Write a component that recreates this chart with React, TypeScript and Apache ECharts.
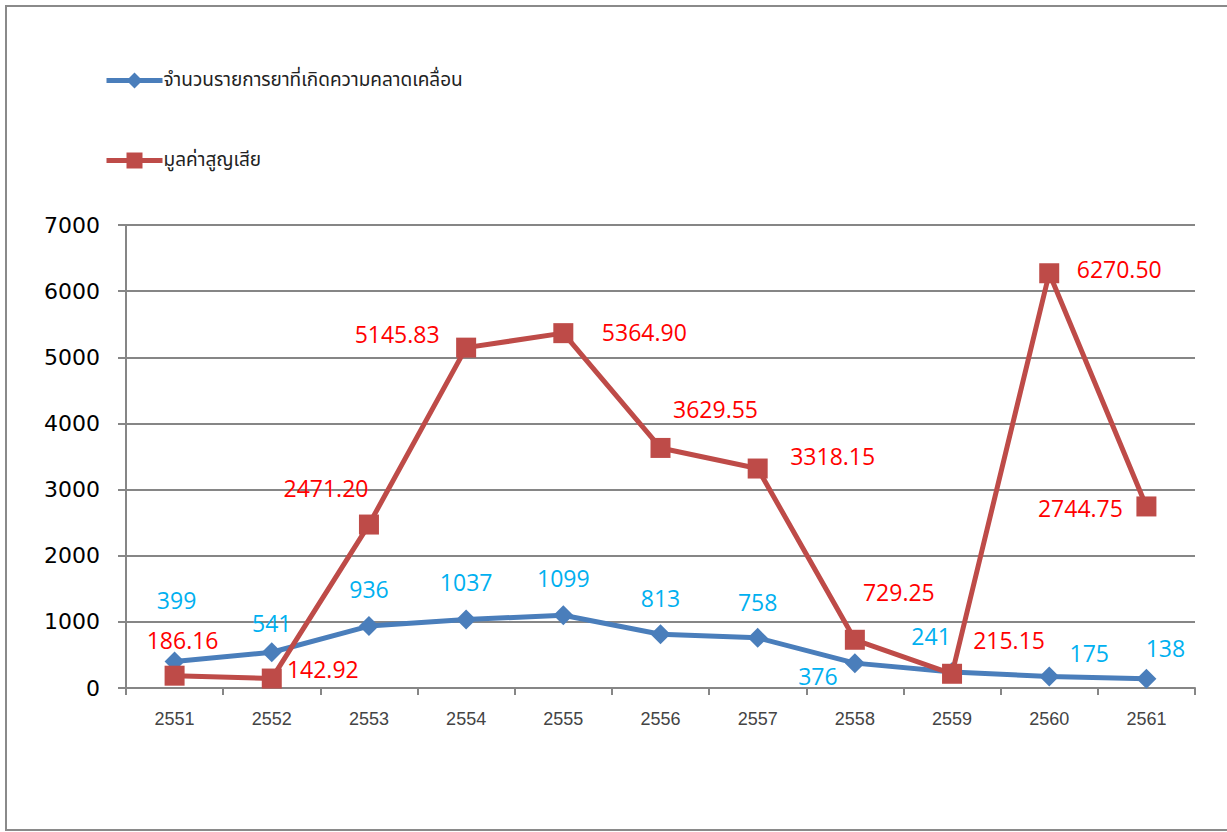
import React, { useEffect, useRef } from "react";
import * as echarts from "echarts";

const years = ["2551", "2552", "2553", "2554", "2555", "2556", "2557", "2558", "2559", "2560", "2561"];
const itemCounts = [399, 541, 936, 1037, 1099, 813, 758, 376, 241, 175, 138];
const lossValues = [186.16, 142.92, 2471.2, 5145.83, 5364.9, 3629.55, 3318.15, 729.25, 215.15, 6270.5, 2744.75];
const yTicks = [0, 1000, 2000, 3000, 4000, 5000, 6000, 7000];
const seriesNames = ["จำนวนรายการยาที่เกิดความคลาดเคลื่อน", "มูลค่าสูญเสีย"];

// label placement (layout only)
const blueLabelOffsets: [number, number][] = [
  [2, -62], [0, -29], [0, -37], [0, -37], [0, -37], [0, -36], [0, -36], [-37, 13], [-21, -36], [40, -23], [19, -31],
];
const redLabelOffsets: [number, number][] = [
  [8, -36], [51, -10], [-43, -37], [-69, -14], [81, -1], [55, -39], [75, -13], [44, -48], [57, -34], [70, -4], [-66, 2],
];

const THAI_FONT = "Tahoma, 'Noto Sans Thai', 'Leelawadee UI', 'DejaVu Sans', sans-serif";

export default function App() {
  const ref = useRef<HTMLDivElement>(null);
  useEffect(() => {
    if (!ref.current) return;
    const chart = echarts.init(ref.current, undefined, { renderer: "svg" });
    const labelFont = { fontSize: 23, fontFamily: "'Open Sans', 'Noto Sans', sans-serif" };
    chart.setOption({
      animation: false,
      backgroundColor: "#ffffff",
      graphic: [
        {
          type: "rect",
          shape: { x: 6, y: 6, width: 1240, height: 824 },
          style: { fill: "none", stroke: "#8a8a8a", lineWidth: 2 },
          silent: true,
        },
      ],
      legend: {
        orient: "vertical",
        left: 99,
        top: 66,
        itemWidth: 56,
        itemHeight: 20,
        itemGap: 61,
        textStyle: { fontSize: 19, color: "#222", fontFamily: THAI_FONT, padding: [0, 0, 0, -4] },
        data: seriesNames.map((n, i) => ({
          name: n,
          lineStyle: { width: 5 },
          itemStyle: { color: i === 0 ? "#4a7ebb" : "#be4b48" },
        })),
      },
      grid: { left: 126, top: 225, right: 32, bottom: 144, containLabel: false },
      xAxis: {
        type: "category",
        data: years,
        boundaryGap: true,
        axisLine: { lineStyle: { color: "#868686", width: 2 } },
        axisTick: { show: true, length: 7, lineStyle: { color: "#868686", width: 2 } },
        axisLabel: {
          color: "#444",
          fontSize: 18,
          fontWeight: "normal",
          margin: 22,
          fontFamily: "'Liberation Sans Narrow', 'Arial Narrow', sans-serif",
        },
      },
      yAxis: {
        type: "value",
        min: yTicks[0],
        max: yTicks[yTicks.length - 1],
        interval: 1000,
        axisLine: { show: true, lineStyle: { color: "#868686", width: 2 } },
        axisTick: { show: true, length: 8, lineStyle: { color: "#868686", width: 2 } },
        splitLine: { lineStyle: { color: "#868686", width: 2 } },
        axisLabel: {
          color: "#000",
          fontSize: 22,
          margin: 26,
          fontFamily: "'DejaVu Sans', sans-serif",
          formatter: (v: number) => String(v),
        },
      },
      series: [
        {
          name: seriesNames[0],
          type: "line",
          symbol: "diamond",
          symbolSize: 20,
          lineStyle: { width: 5, color: "#4a7ebb" },
          itemStyle: { color: "#4a7ebb" },
          data: itemCounts.map((v, i) => ({
            value: v,
            label: { offset: blueLabelOffsets[i] },
          })),
          label: {
            show: true,
            position: "inside",
            color: "#00b0f0",
            ...labelFont,
            formatter: (p: any) => String(p.value),
          },
          z: 2,
        },
        {
          name: seriesNames[1],
          type: "line",
          symbol: "rect",
          symbolSize: 20,
          lineStyle: { width: 5, color: "#be4b48" },
          itemStyle: { color: "#be4b48" },
          data: lossValues.map((v, i) => ({
            value: v,
            label: { offset: redLabelOffsets[i] },
          })),
          label: {
            show: true,
            position: "inside",
            color: "#ff0000",
            ...labelFont,
            formatter: (p: any) => Number(p.value).toFixed(2),
          },
          z: 3,
        },
      ],
    });
    return () => chart.dispose();
  }, []);
  return (
    <div
      ref={ref}
      style={{ position: "fixed", left: 0, top: 0, width: 1227, height: 832 }}
    />
  );
}
